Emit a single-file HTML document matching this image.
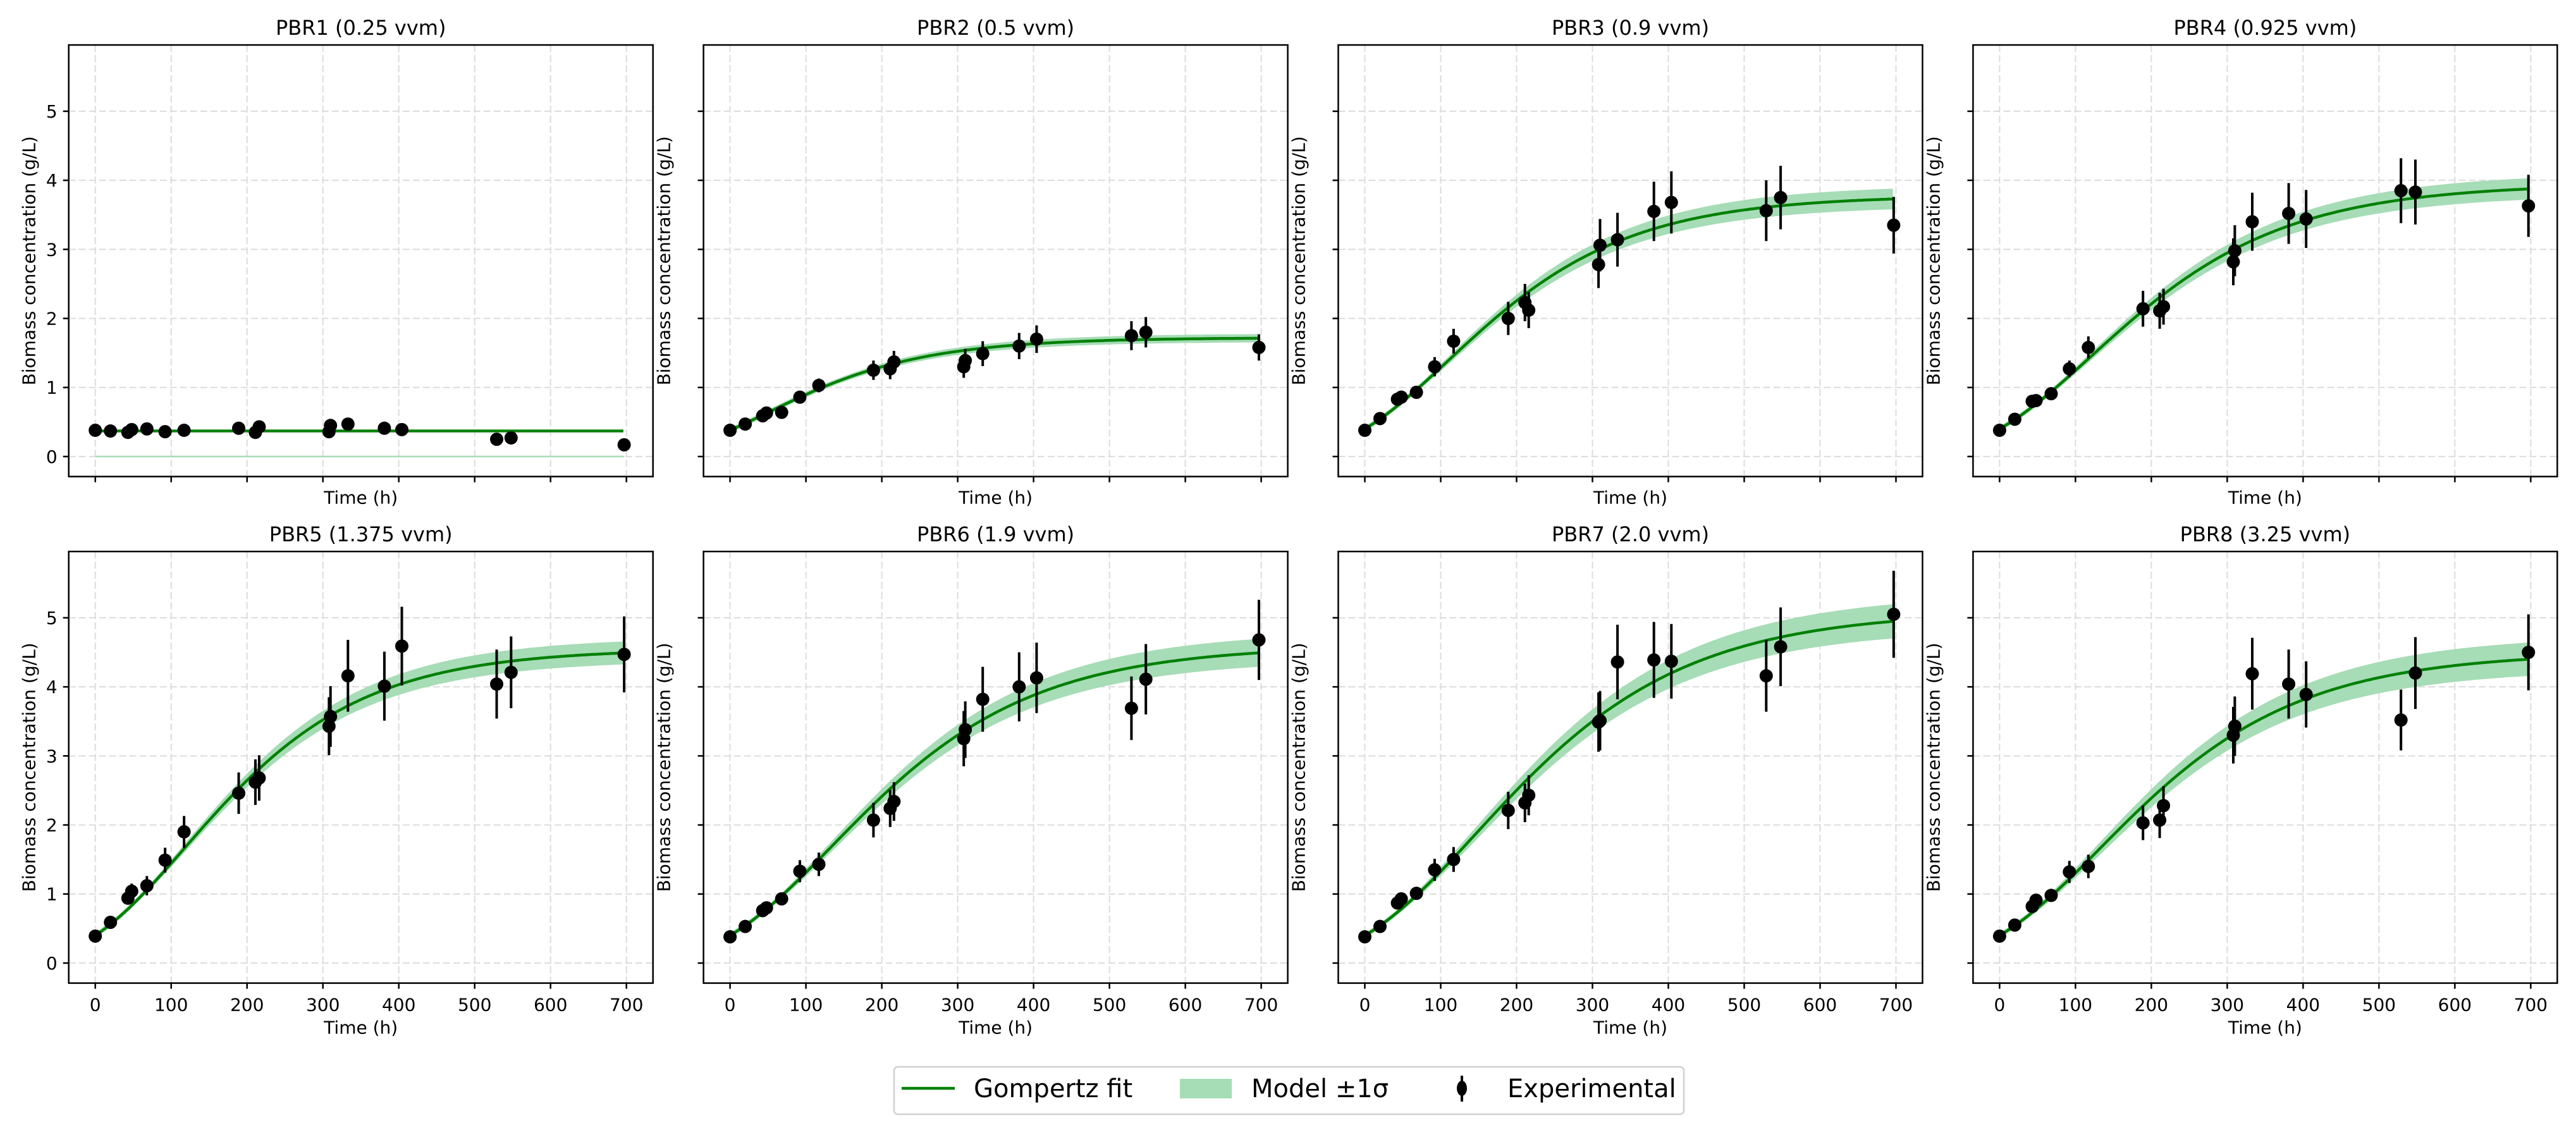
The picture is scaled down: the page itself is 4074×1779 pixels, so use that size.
<!DOCTYPE html>
<html><head><meta charset="utf-8"><style>
html,body{margin:0;padding:0;background:#fff;}
svg{display:block;font-family:"DejaVu Sans","Liberation Sans",sans-serif;}
</style></head><body>
<svg id="fig" width="4074" height="1779" viewBox="0 0 4074 1779" xmlns="http://www.w3.org/2000/svg">
<rect width="4074" height="1779" fill="#fff"/>
<g id="panels"></g>
<g id="legend">
  <rect x="1414" y="1687" width="1249" height="75" rx="6" fill="#fff" stroke="#d0d0d0" stroke-width="2.5"/>
  <line x1="1426" y1="1721" x2="1510" y2="1721" stroke="#008000" stroke-width="4.5"/>
  <text x="1540" y="1735" font-size="40">Gompertz fit</text>
  <rect x="1866" y="1706" width="82" height="31" fill="#a6dcb6"/>
  <text x="1979" y="1735" font-size="40">Model ±1σ</text>
  <line x1="2312" y1="1701" x2="2312" y2="1742" stroke="#000" stroke-width="4"/>
  <ellipse cx="2312" cy="1721" rx="8" ry="12" fill="#000"/>
  <text x="2384" y="1735" font-size="40">Experimental</text>
</g>
</svg>
<script>
const times = [0,20,43,48,68,92,117,189,211,216,308,310,333,381,404,529,548,697];
const titles = ["PBR1 (0.25 vvm)","PBR2 (0.5 vvm)","PBR3 (0.9 vvm)","PBR4 (0.925 vvm)","PBR5 (1.375 vvm)","PBR6 (1.9 vvm)","PBR7 (2.0 vvm)","PBR8 (3.25 vvm)"];
const pbr1 = [0.38,0.37,0.35,0.39,0.40,0.36,0.38,0.41,0.35,0.43,0.36,0.45,0.47,0.41,0.39,0.25,0.27,0.17];
const pbr2 = [0.38,0.47,0.59,0.63,0.64,0.86,1.03,1.25,1.27,1.37,1.30,1.39,1.49,1.60,1.70,1.75,1.80,1.58];
const pbr3 = [0.38,0.55,0.83,0.86,0.93,1.30,1.67,2.00,2.23,2.12,2.78,3.06,3.14,3.55,3.68,3.56,3.75,3.35];
const pbr4 = [0.38,0.54,0.80,0.81,0.91,1.27,1.58,2.14,2.11,2.17,2.82,2.98,3.40,3.52,3.44,3.85,3.83,3.63];
const pbr5 = [0.39,0.59,0.94,1.04,1.12,1.49,1.90,2.46,2.62,2.68,3.43,3.57,4.16,4.01,4.59,4.04,4.21,4.47];
const pbr6 = [0.38,0.53,0.76,0.80,0.93,1.33,1.43,2.07,2.24,2.34,3.25,3.38,3.82,4.00,4.13,3.69,4.11,4.68];
const pbr7 = [0.38,0.53,0.87,0.93,1.01,1.35,1.50,2.21,2.32,2.43,3.49,3.51,4.36,4.39,4.37,4.16,4.58,5.05];
const pbr8 = [0.39,0.55,0.82,0.91,0.98,1.32,1.40,2.03,2.07,2.28,3.30,3.43,4.19,4.04,3.89,3.52,4.20,4.50];
const errs1 = [0.01,0.01,0.01,0.01,0.01,0.01,0.01,0.01,0.01,0.01,0.01,0.01,0.01,0.01,0.01,0.01,0.01,0.01];
const errs2 = [0.03,0.04,0.05,0.06,0.06,0.09,0.1,0.14,0.15,0.16,0.16,0.17,0.18,0.19,0.2,0.21,0.22,0.19];
const errs3 = [0.03,0.05,0.08,0.08,0.09,0.14,0.18,0.24,0.27,0.26,0.34,0.38,0.39,0.43,0.45,0.44,0.46,0.41];
const errs4 = [0.03,0.05,0.07,0.07,0.08,0.12,0.16,0.26,0.26,0.26,0.34,0.37,0.42,0.44,0.42,0.47,0.47,0.45];
const errs5 = [0.03,0.06,0.08,0.11,0.14,0.18,0.23,0.3,0.33,0.33,0.42,0.44,0.52,0.5,0.57,0.5,0.52,0.55];
const errs6 = [0.03,0.05,0.07,0.07,0.09,0.16,0.17,0.25,0.27,0.28,0.4,0.41,0.47,0.5,0.51,0.46,0.51,0.58];
const errs7 = [0.03,0.05,0.08,0.08,0.09,0.16,0.18,0.27,0.28,0.29,0.43,0.43,0.54,0.55,0.54,0.52,0.57,0.63];
const errs8 = [0.03,0.05,0.07,0.08,0.09,0.16,0.17,0.25,0.26,0.28,0.41,0.43,0.52,0.5,0.48,0.44,0.52,0.55];
const fitA = [0.37,1.72,3.78,3.95,4.55,4.6,5.1,4.5];
const fitB = [0,1.51,2.246,2.29,2.43,2.44,2.545,2.42];
const fitC = [0.0075,0.00842,0.00735,0.00686,0.0075,0.00665,0.00637,0.0067];
const bandFrac = [0,0.035,0.04,0.04,0.037,0.045,0.05,0.055];
const xTicks = [0,100,200,300,400,500,600,700];
const yTicks = [0,1,2,3,4,5];

const series = [pbr1,pbr2,pbr3,pbr4,pbr5,pbr6,pbr7,pbr8];
const errs = [errs1,errs2,errs3,errs4,errs5,errs6,errs7,errs8];
const NS = "http://www.w3.org/2000/svg";
const root = document.getElementById('panels');
const colLeft = [108.7,1112.6,2116.5,3120.4];
const rowTop = [71.1,872.1];
const W = 924, H = 682.5;
const XMIN=-35, XMAX=735, YMIN=-0.29, YMAX=5.96;

function mk(tag, attrs, parent){
  const e = document.createElementNS(NS, tag);
  for (const k in attrs) e.setAttribute(k, attrs[k]);
  parent.appendChild(e);
  return e;
}
function gomp(p, t){ return fitA[p]*Math.exp(-fitB[p]*Math.exp(-fitC[p]*t)); }

for (let p=0;p<8;p++){
  const r = Math.floor(p/4), c = p%4;
  const L = colLeft[c], T = rowTop[r];
  const sx = v => L + (v-XMIN)/(XMAX-XMIN)*W;
  const sy = v => T + (YMAX-v)/(YMAX-YMIN)*H;
  const g = mk('g', {}, root);
  
  
  xTicks.forEach(v=>{
    const l = mk('line',{x1:sx(v),x2:sx(v),y1:T,y2:T+H,stroke:'#dcdcdc','stroke-width':2,'stroke-dasharray':'11,5'},g);
    
    
  });
  yTicks.forEach(v=>{
    const l = mk('line',{x1:L,x2:L+W,y1:sy(v),y2:sy(v),stroke:'#dcdcdc','stroke-width':2,'stroke-dasharray':'11,5'},g);
    
    
  });
  let up='', lo=[];
  for (let t=0;t<=697;t+=3){
    const y = gomp(p,t), d = Math.max(bandFrac[p]*y, bandFrac[p]>0?0.04:0);
    up += (up?'L':'M')+sx(t).toFixed(1)+','+sy(y+d).toFixed(1);
    lo.unshift(sx(t).toFixed(1)+','+sy(y-d).toFixed(1));
  }
  if (bandFrac[p]>0){
    const band = mk('path',{d:up+'L'+lo.join('L')+'Z',fill:'#a6dcb6'},g);
    
    
  } else {
    const band = mk('line',{x1:sx(0),x2:sx(697),y1:sy(0),y2:sy(0),stroke:'#a6dcb6','stroke-width':2.5},g);
    
    
  }
  let d='';
  for (let t=0;t<=697;t+=3) d += (d?'L':'M')+sx(t).toFixed(1)+','+sy(gomp(p,t)).toFixed(1);
  const fit = mk('path',{d:d,fill:'none',stroke:'#008000','stroke-width':4.5},g);
  
  
  series[p].forEach((v,i)=>{
    const e = errs[p][i];
    const eb = mk('line',{x1:sx(times[i]),x2:sx(times[i]),y1:sy(v-e),y2:sy(v+e),stroke:'#000','stroke-width':4},g);
    
    
    const pt = mk('circle',{cx:sx(times[i]),cy:sy(v),r:10.5,fill:'#000'},g);
    
    
  });
  const fr = mk('rect',{x:L,y:T,width:W,height:H,fill:'none',stroke:'#000','stroke-width':2.5},g);
  
  
  xTicks.forEach(v=>{
    const tk = mk('line',{x1:sx(v),x2:sx(v),y1:T+H,y2:T+H+9,stroke:'#000','stroke-width':2.5},g);
    
    
    if (r===1){
      const tl = mk('text',{x:sx(v),y:T+H+44,'font-size':28,'text-anchor':'middle'},g);
      tl.textContent = v;
      
      
    }
  });
  yTicks.forEach(v=>{
    const tk = mk('line',{x1:L-9,x2:L,y1:sy(v),y2:sy(v),stroke:'#000','stroke-width':2.5},g);
    
    
    if (c===0){
      const tl = mk('text',{x:L-18,y:sy(v)+10,'font-size':28,'text-anchor':'end'},g);
      tl.textContent = v;
      
      
    }
  });
  const title = mk('text',{x:L+W/2,y:T-16,'font-size':32,'text-anchor':'middle'},g);
  title.textContent = titles[p];
  
  
  const xl = mk('text',{x:L+W/2,y:(r===0?T+H+43:T+H+80),'font-size':28,'text-anchor':'middle'},g);
  xl.textContent = 'Time (h)';
  
  
  const yy = T+H/2;
  const yl = mk('text',{x:L-53,y:yy,'font-size':28,'text-anchor':'middle',transform:'rotate(-90 '+(L-53)+' '+yy+')'},g);
  yl.textContent = 'Biomass concentration (g/L)';
  
  
}
</script>
</body></html>
